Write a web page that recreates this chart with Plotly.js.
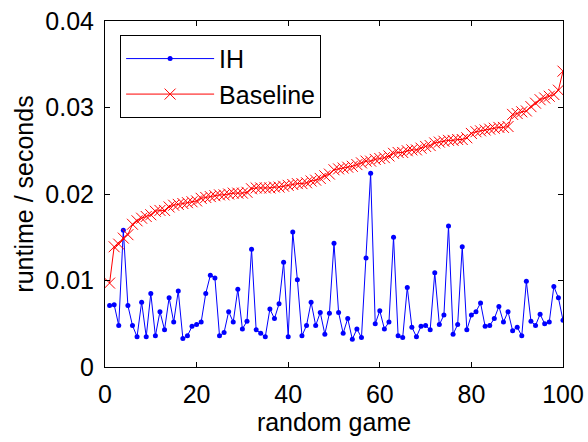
<!DOCTYPE html>
<html>
<head>
<meta charset="utf-8">
<script src="https://cdn.plot.ly/plotly-3.0.1.min.js"></script>
<style>html,body{margin:0;padding:0;background:#fff;}#chart{width:588px;height:442px;}</style>
</head>
<body>
<div id="chart"></div>
<script>
const games = Array.from({length: 100}, (_, i) => i + 1);

const ihRuntime = [
  0.0071, 0.0072, 0.0048, 0.0158, 0.0071, 0.0048, 0.0035, 0.0075, 0.0035, 0.0085,
  0.0036, 0.0064, 0.0043, 0.0080, 0.0052, 0.0088, 0.0033, 0.0036, 0.0047, 0.0049,
  0.0052, 0.0085, 0.0106, 0.0103, 0.0036, 0.0040, 0.0064, 0.0052, 0.0090, 0.0044,
  0.0053, 0.0136, 0.0043, 0.0039, 0.0035, 0.0067, 0.0056, 0.0073, 0.0121, 0.0035,
  0.0156, 0.0101, 0.0036, 0.0048, 0.0075, 0.0048, 0.0063, 0.0038, 0.0062, 0.0143,
  0.0063, 0.0039, 0.0056, 0.0032, 0.0044, 0.0034, 0.0126, 0.0224, 0.0050, 0.0065,
  0.0044, 0.0052, 0.0150, 0.0036, 0.0034, 0.0092, 0.0046, 0.0035, 0.0047, 0.0048,
  0.0043, 0.0109, 0.0049, 0.0060, 0.0163, 0.0038, 0.0049, 0.0139, 0.0043, 0.0060,
  0.0064, 0.0074, 0.0047, 0.0048, 0.0056, 0.0070, 0.0052, 0.0064, 0.0042, 0.0046,
  0.0036, 0.0099, 0.0053, 0.0048, 0.0061, 0.0050, 0.0052, 0.0093, 0.0080, 0.0054
];

const baselineRuntime = [
  0.0097, 0.0139, 0.0142, 0.0149, 0.0153, 0.0165, 0.0169, 0.0172, 0.0174, 0.0176,
  0.0180, 0.0181, 0.0181, 0.0185, 0.0187, 0.0188, 0.0189, 0.0190, 0.0191, 0.0192,
  0.0195, 0.0196, 0.0197, 0.0198, 0.0199, 0.0199, 0.0200, 0.0201, 0.0201, 0.0201,
  0.0202, 0.0206, 0.0207, 0.0207, 0.0207, 0.0207, 0.0208, 0.0208, 0.0209, 0.0210,
  0.0211, 0.0212, 0.0212, 0.0213, 0.0215, 0.0216, 0.0218, 0.0221, 0.0223, 0.0228,
  0.0229, 0.0230, 0.0231, 0.0232, 0.0234, 0.0236, 0.0238, 0.0238, 0.0240, 0.0241,
  0.0242, 0.0244, 0.0247, 0.0248, 0.0248, 0.0250, 0.0251, 0.0251, 0.0253, 0.0255,
  0.0256, 0.0259, 0.0260, 0.0261, 0.0262, 0.0262, 0.0263, 0.0263, 0.0265, 0.0270,
  0.0272, 0.0273, 0.0274, 0.0275, 0.0276, 0.0277, 0.0277, 0.0278, 0.0292, 0.0293,
  0.0295, 0.0296, 0.0301, 0.0305, 0.0309, 0.0311, 0.0313, 0.0315, 0.0320, 0.0342
];

const xTickVals = [0, 20, 40, 60, 80, 100];
const yTickVals = [0, 0.01, 0.02, 0.03, 0.04];
const yTickText = ['0', '0.01', '0.02', '0.03', '0.04'];

const fontFamily = 'Arial, "Liberation Sans", Helvetica, sans-serif';
const fontSize = 25;

const traces = [
  {
    x: games, y: ihRuntime, name: 'IH', type: 'scatter', mode: 'lines+markers',
    line: {color: '#0000ff', width: 1},
    marker: {color: '#0000ff', size: 5, symbol: 'circle'}
  },
  {
    x: games, y: baselineRuntime, name: 'Baseline', type: 'scatter', mode: 'lines+markers',
    line: {color: '#ff0000', width: 1},
    marker: {color: '#ff0000', size: 11, symbol: 'x-thin', line: {color: '#ff0000', width: 1}}
  }
];

const axisCommon = {
  showgrid: false, zeroline: false, showline: true, linecolor: '#000', linewidth: 1,
  mirror: 'ticks', ticks: 'inside', ticklen: 5, tickwidth: 1, tickcolor: '#000',
  tickfont: {family: fontFamily, size: fontSize, color: '#000'}
};

const layout = {
  width: 588, height: 442,
  margin: {l: 105, r: 25, t: 21, b: 75},
  paper_bgcolor: '#fff', plot_bgcolor: '#fff',
  font: {family: fontFamily, color: '#000'},
  showlegend: true,
  legend: {
    x: 0.033, y: 0.96, xanchor: 'left', yanchor: 'top',
    bordercolor: '#000', borderwidth: 1, bgcolor: '#fff',
    font: {family: fontFamily, size: fontSize, color: '#000'},
    itemwidth: 88, tracegroupgap: 0
  },
  xaxis: Object.assign({}, axisCommon, {
    range: [0, 100], tickvals: xTickVals, ticklabelstandoff: 5,
    title: {text: 'random game', font: {family: fontFamily, size: fontSize, color: '#000'}, standoff: 4}
  }),
  yaxis: Object.assign({}, axisCommon, {
    range: [0, 0.04], tickvals: yTickVals, ticktext: yTickText, ticklabelstandoff: 5,
    title: {text: 'runtime / seconds', font: {family: fontFamily, size: fontSize, color: '#000'}, standoff: 4}
  })
};

Plotly.newPlot('chart', traces, layout, {displayModeBar: false, staticPlot: true});
</script>
</body>
</html>
